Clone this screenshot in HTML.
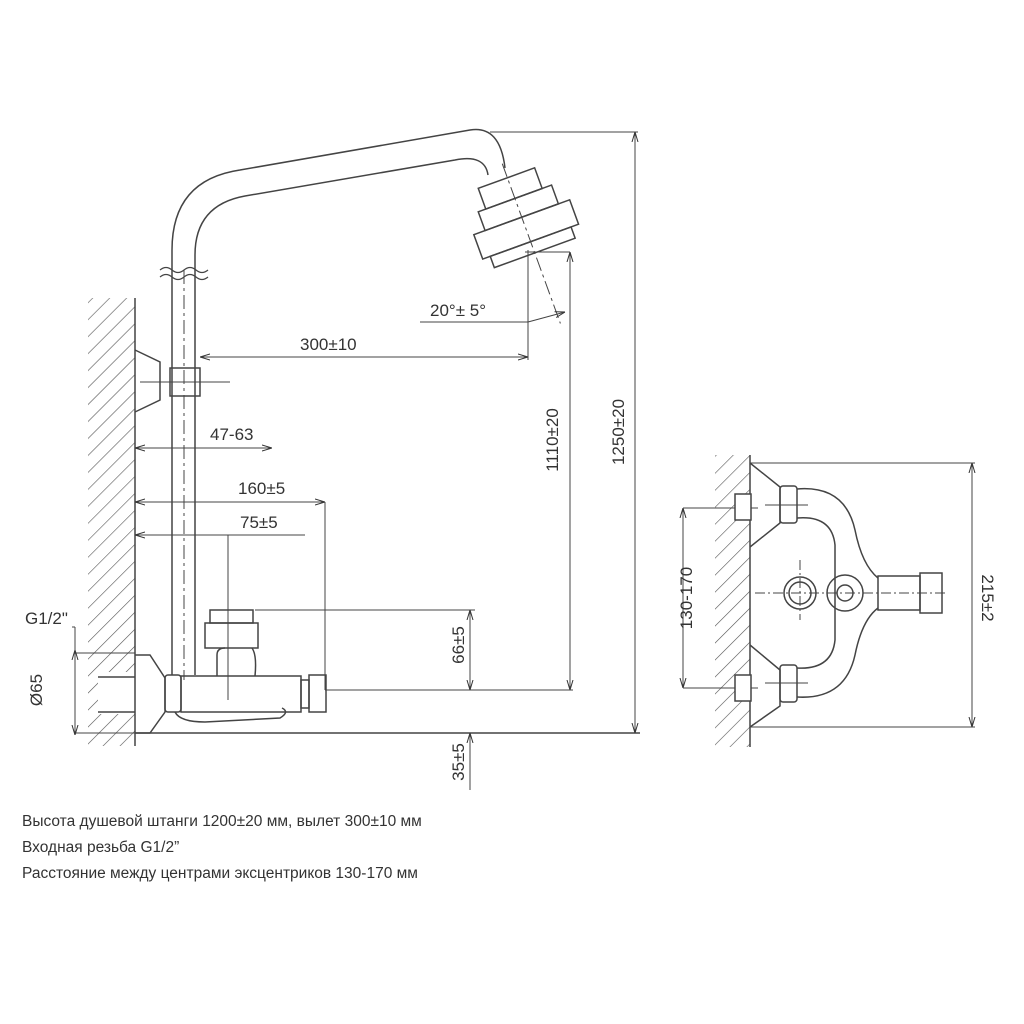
<!DOCTYPE html>
<html><head><meta charset="utf-8"><style>
body{margin:0;background:#fff}
svg{display:block}
text{font-family:"Liberation Sans",sans-serif;fill:#333}
</style></head><body>
<svg width="1024" height="1024" viewBox="0 0 1024 1024" xmlns="http://www.w3.org/2000/svg">
<defs>
<pattern id="h" width="12" height="12" patternUnits="userSpaceOnUse" patternTransform="rotate(45)">
<line x1="0" y1="0" x2="0" y2="12" stroke="#555" stroke-width="1.2"/>
</pattern>
<marker id="a" markerWidth="10" markerHeight="8" refX="10" refY="4" orient="auto-start-reverse" markerUnits="userSpaceOnUse"><path d="M0,1 L10,4 L0,7" fill="none" stroke="#333" stroke-width="1"/></marker>
</defs>
<g fill="none" stroke="#444" stroke-width="1.5">
<!-- LEFT wall -->
<rect x="88" y="298" width="47" height="448" fill="url(#h)" stroke="none"/>
<rect x="98" y="672" width="37" height="42" fill="#fff" stroke="none"/>
<line x1="135" y1="298" x2="135" y2="746"/>
<line x1="135" y1="733" x2="640" y2="733"/>
<!-- pipe in wall -->
<line x1="75" y1="653" x2="135" y2="653" stroke-width="1"/>
<line x1="75" y1="733" x2="135" y2="733" stroke-width="1"/>
<line x1="98" y1="677" x2="135" y2="677"/><line x1="98" y1="712" x2="135" y2="712"/>
<line x1="75" y1="650" x2="75" y2="735" stroke-width="1" marker-start="url(#a)" marker-end="url(#a)"/>
<line x1="72" y1="627" x2="75" y2="627" stroke-width="1"/><line x1="75" y1="627" x2="75" y2="650" stroke-width="1"/>
<!-- vertical pipe -->
<path d="M172,675 V250 Q172,180 240,170 L470,130 Q500,125 505,168"/>
<path d="M195,675 V255 Q195,205 245,196 L455,160 Q485,154 488,175"/>
<line x1="184" y1="270" x2="184" y2="680" stroke-dasharray="14,4,3,4" stroke-width="1"/>
<path d="M160,270 q6,-5 12,0 t12,0 t12,0 t12,0 M160,277 q6,-5 12,0 t12,0 t12,0 t12,0" stroke-width="1.2"/>
<!-- shower head -->
<g transform="rotate(-20 522 215)">
<rect x="490" y="175" width="60" height="22"/>
<rect x="482" y="197" width="78" height="20"/>
<rect x="470" y="217" width="102" height="26"/>
<rect x="478" y="243" width="86" height="12"/>
<line x1="521" y1="160" x2="521" y2="330" stroke-width="1" stroke-dasharray="14,4,3,4"/>
</g>
<!-- bracket -->
<rect x="170" y="368" width="30" height="28"/>
<path d="M135,350 L160,362 V400 L135,412"/>
<line x1="140" y1="382" x2="230" y2="382" stroke-width="1"/>
<!-- dims -->
<line x1="528" y1="250" x2="528" y2="360" stroke-width="1"/>
<line x1="200" y1="357" x2="528" y2="357" stroke-width="1" marker-start="url(#a)" marker-end="url(#a)"/>
<line x1="420" y1="322" x2="528" y2="322" stroke-width="1"/>
<line x1="528" y1="322" x2="565" y2="312" stroke-width="1" marker-end="url(#a)"/>
<line x1="525" y1="252" x2="570" y2="252" stroke-width="1"/>
<line x1="570" y1="252" x2="570" y2="690" stroke-width="1" marker-start="url(#a)" marker-end="url(#a)"/>
<line x1="325" y1="690" x2="573" y2="690" stroke-width="1"/>
<line x1="490" y1="132" x2="638" y2="132" stroke-width="1"/>
<line x1="635" y1="132" x2="635" y2="733" stroke-width="1" marker-start="url(#a)" marker-end="url(#a)"/>
<line x1="135" y1="448" x2="272" y2="448" stroke-width="1" marker-start="url(#a)" marker-end="url(#a)"/>
<line x1="135" y1="502" x2="325" y2="502" stroke-width="1" marker-start="url(#a)" marker-end="url(#a)"/>
<line x1="135" y1="535" x2="305" y2="535" stroke-width="1" marker-start="url(#a)"/>
<line x1="228" y1="535" x2="228" y2="700" stroke-width="1"/>
<line x1="325" y1="502" x2="325" y2="690" stroke-width="1"/>
<line x1="255" y1="610" x2="475" y2="610" stroke-width="1"/>
<line x1="470" y1="610" x2="470" y2="690" stroke-width="1" marker-start="url(#a)" marker-end="url(#a)"/>
<line x1="470" y1="733" x2="470" y2="790" stroke-width="1" marker-start="url(#a)"/>
<!-- valve -->
<path d="M135,655 L150,655 L165,678 V712 L150,733 L135,733" />
<rect x="165" y="675" width="16" height="37" rx="3"/>
<rect x="181" y="676" width="120" height="36"/>
<path d="M175,712 Q180,722 205,722 L280,718 Q290,712 282,708"/>
<rect x="210" y="610" width="43" height="13"/>
<rect x="205" y="623" width="53" height="25"/>
<path d="M217,676 V655 Q217,648 225,648 M252,648 Q257,655 255,676"/>
<rect x="301" y="680" width="8" height="28"/>
<rect x="309" y="675" width="17" height="37"/>
</g>
<g font-size="17">
<text x="300" y="350">300±10</text>
<text x="430" y="316">20°± 5°</text>
<text x="210" y="440">47-63</text>
<text x="238" y="494">160±5</text>
<text x="240" y="528">75±5</text>
<text x="25" y="624">G1/2"</text>
<text transform="translate(42,690) rotate(-90)" text-anchor="middle">Ø65</text>
<text transform="translate(464,645) rotate(-90)" text-anchor="middle">66±5</text>
<text transform="translate(464,762) rotate(-90)" text-anchor="middle">35±5</text>
<text transform="translate(558,440) rotate(-90)" text-anchor="middle">1110±20</text>
<text transform="translate(624,432) rotate(-90)" text-anchor="middle">1250±20</text>
</g>
<!-- RIGHT -->
<g fill="none" stroke="#444" stroke-width="1.5">
<rect x="715" y="455" width="35" height="292" fill="url(#h)" stroke="none"/>
<line x1="750" y1="455" x2="750" y2="747"/>
<line x1="750" y1="463" x2="975" y2="463" stroke-width="1"/>
<line x1="750" y1="727" x2="975" y2="727" stroke-width="1"/>
<line x1="972" y1="463" x2="972" y2="727" stroke-width="1" marker-start="url(#a)" marker-end="url(#a)"/>
<line x1="683" y1="508" x2="683" y2="688" stroke-width="1" marker-start="url(#a)" marker-end="url(#a)"/>
<line x1="683" y1="508" x2="758" y2="508" stroke-width="1"/>
<line x1="683" y1="688" x2="758" y2="688" stroke-width="1"/>
<rect x="735" y="494" width="16" height="26" fill="#fff"/>
<rect x="735" y="675" width="16" height="26" fill="#fff"/>
<path d="M750,463 L780,487 V523 L750,547"/>
<path d="M750,645 L780,670 V706 L750,727"/>
<rect x="780" y="486" width="17" height="37" rx="3"/>
<rect x="780" y="665" width="17" height="37" rx="3"/>
<path d="M797,489 Q845,485 855,530 Q862,565 878,578 M797,518 Q832,515 835,545 V640 Q832,670 797,668 M797,697 Q845,700 855,655 Q862,620 878,608"/>
<rect x="878" y="576" width="42" height="34"/>
<rect x="920" y="573" width="22" height="40"/>
<circle cx="800" cy="593" r="16"/><circle cx="800" cy="593" r="11"/>
<circle cx="845" cy="593" r="18"/><circle cx="845" cy="593" r="8"/>
<line x1="755" y1="593" x2="945" y2="593" stroke-width="1" stroke-dasharray="10,3,2,3"/>
<line x1="800" y1="560" x2="800" y2="620" stroke-width="1" stroke-dasharray="10,3,2,3"/>
<line x1="765" y1="505" x2="808" y2="505" stroke-width="1"/>
<line x1="765" y1="683" x2="808" y2="683" stroke-width="1"/>
</g>
<g font-size="17">
<text transform="translate(692,598) rotate(-90)" text-anchor="middle">130-170</text>
<text transform="translate(982,598) rotate(90)" text-anchor="middle">215±2</text>
</g>
<g font-size="15.5">
<text x="22" y="826">Высота душевой штанги 1200±20 мм, вылет 300±10 мм</text>
<text x="22" y="852">Входная резьба G1/2”</text>
<text x="22" y="878">Расстояние между центрами эксцентриков 130-170 мм</text>
</g>
</svg>
</body></html>
